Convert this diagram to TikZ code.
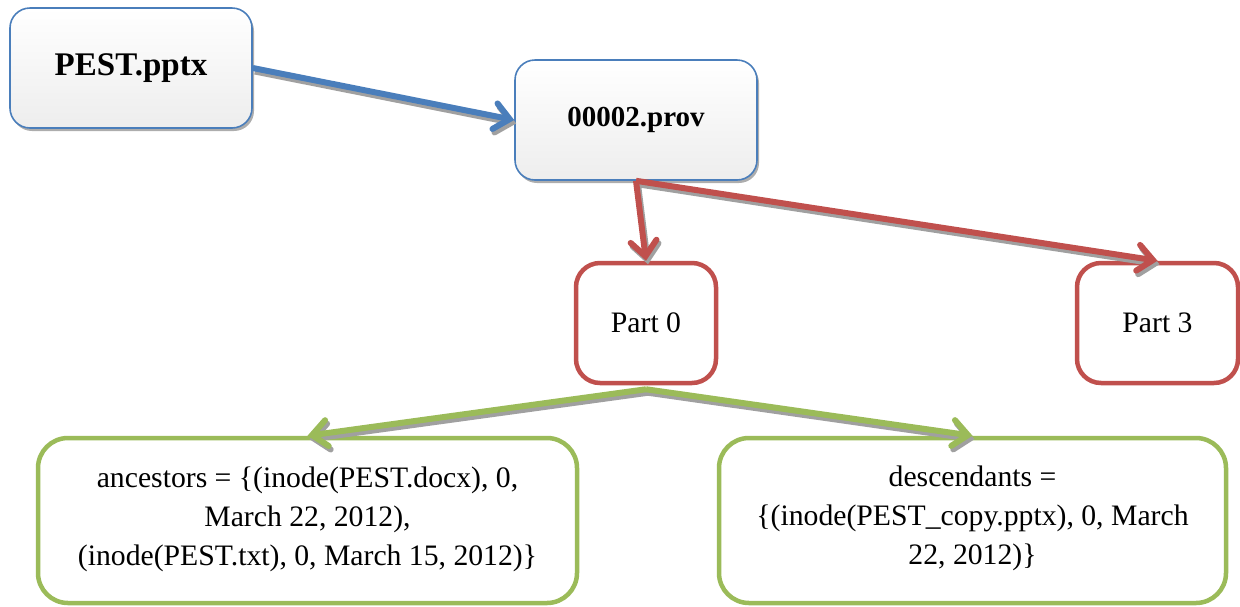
\documentclass[tikz,border=0pt]{standalone}
\usepackage{fontspec}
\setmainfont{Liberation Serif}
\usetikzlibrary{arrows.meta,shadows,calc}
\definecolor{bluebd}{HTML}{4A7EBB}
\definecolor{redbd}{HTML}{C0504D}
\definecolor{greenbd}{HTML}{9BBB59}
\definecolor{shadowc}{HTML}{A0A0A0}
\tikzset{
  bluebox/.style={draw=bluebd, line width=1.6pt, rounded corners=20pt,
    top color=white, bottom color=black!7, minimum width=242pt, minimum height=120pt,
    drop shadow={shadow xshift=2pt, shadow yshift=-3pt, fill=black!40, opacity=0.8},
    font=\bfseries},
  redbox/.style={draw=redbd, line width=4.5pt, rounded corners=24pt, fill=white,
    font=\fontsize{29.7}{36}\selectfont},
  greenbox/.style={draw=greenbd, line width=4.5pt, rounded corners=30pt, fill=white,
    align=center, font=\fontsize{29.7}{39}\selectfont},
  tip/.style={-{Straight Barb[length=15pt,width=26pt,line cap=round]}},
  conn/.style={tip, line width=6pt, draw=#1},
  shad/.style={tip, line width=6pt, draw=shadowc, transform canvas={xshift=2pt,yshift=-3.5pt}},
}
\begin{document}
\begin{tikzpicture}[x=1pt,y=-1pt]
\useasboundingbox (0,0) rectangle (1240,606);
% boxes
\node[bluebox] (pest) at (131,68) {\fontsize{33}{36}\selectfont PEST.pptx};
\node[bluebox] (prov) at (636,120) {\fontsize{29}{36}\selectfont 00002.prov};
\node[redbox, minimum width=140pt, minimum height=120pt] (p0) at (646,323) {Part 0};
\node[redbox, minimum width=161pt, minimum height=120pt] (p3) at (1157.5,323) {Part 3};
\node[greenbox, minimum width=539pt, minimum height=165pt, text depth=8pt] (anc) at (307.5,520.5)
  {ancestors = \{(inode(PEST.docx), 0,\\ March 22, 2012),\\ (inode(PEST.txt), 0, March 15, 2012)\}};
\node[greenbox, minimum width=507pt, minimum height=165pt, text depth=10pt] (desc) at (972.5,520.5)
  {descendants =\\ \{(inode(PEST\_copy.pptx), 0, March\\ 22, 2012)\}};
% connector shadows
\draw[shad] (pest.east) -- (prov.west);
\draw[shad] (prov.south) -- (p0.north);
\draw[shad] (prov.south) -- (p3.north);
\draw[shad] ($(p0.south)+(0,4)$) -- (anc.north);
\draw[shad] ($(p0.south)+(0,4)$) -- (desc.north);
% connectors
\draw[conn=bluebd] (pest.east) -- (prov.west);
\draw[conn=redbd] (prov.south) -- (p0.north);
\draw[conn=redbd] (prov.south) -- (p3.north);
\draw[conn=greenbd] ($(p0.south)+(0,4)$) -- (anc.north);
\draw[conn=greenbd] ($(p0.south)+(0,4)$) -- (desc.north);
\end{tikzpicture}
\end{document}
